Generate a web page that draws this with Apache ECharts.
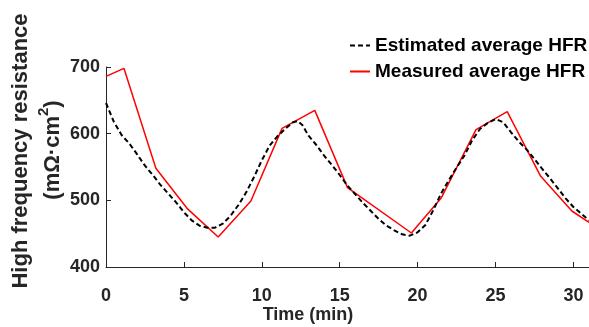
<!DOCTYPE html>
<html>
<head>
<meta charset="utf-8">
<script src="https://cdn.jsdelivr.net/npm/echarts@6/dist/echarts.min.js"></script>
<style>
  html, body { margin: 0; padding: 0; background: #fff; }
  #chart { width: 589px; height: 327px; }
</style>
</head>
<body>
<div id="chart"></div>
<script>
// estimated average HFR (dashed black)
const estTime = [0, 0.5, 1, 1.5, 2, 2.5, 3, 3.5, 4, 4.5, 5, 5.5, 6, 6.5, 7, 7.5, 8, 8.5, 9, 9.5,
  10, 10.5, 11, 11.5, 12, 12.3, 12.6, 13, 13.5, 14, 14.5, 15, 15.5, 16, 16.5, 17, 17.5, 18, 18.5, 19,
  19.5, 20, 20.5, 21, 21.5, 22, 22.5, 23, 23.5, 24, 24.5, 25, 25.5, 26, 26.5, 27, 27.5, 28, 28.5, 29,
  29.5, 30, 30.5, 31];
const estHfr = [646, 618, 598, 585, 569, 552, 538, 523, 510, 497, 482, 470, 462, 459, 459, 465, 477, 493, 512, 535,
  560, 582, 596, 607, 617, 619, 613, 597, 583, 567, 553, 538, 522, 509, 496, 484, 472, 462, 455, 449,
  447, 452, 463, 485, 510, 530, 549, 567, 590, 607, 616, 622, 617, 602, 588, 576, 562, 547, 533, 518,
  503, 490, 480, 470];

// measured average HFR (solid red)
const measTime = [0, 1.15, 3.2, 5.2, 7.2, 9.3, 11.3, 13.4, 15.5, 19.6, 21.5, 23.75, 25.75, 27.9, 29.9, 31];
const measHfr = [686, 698, 548, 488, 445, 499, 608, 635, 519, 451, 503, 606, 633, 536, 484, 467];

const xTicks = { min: 0, max: 31, interval: 5 };
const yTicks = { min: 400, max: 700, interval: 100 };

const font = '"Liberation Sans", Arial, sans-serif';
const axisColor = '#262626';

const chart = echarts.init(document.getElementById('chart'));

const option = {
  backgroundColor: '#fff',
  animation: false,
  grid: { left: 106, right: 0, top: 67, bottom: 60 },
  legend: {
    orient: 'vertical',
    left: 349,
    top: 36,
    padding: 0,
    itemWidth: 20,
    itemHeight: 14,
    itemGap: 7,
    itemStyle: { opacity: 0 },
    textStyle: { fontFamily: font, fontWeight: 'bold', fontSize: 19, color: '#000' },
    data: ['Estimated average HFR', 'Measured average HFR'],
  },
  xAxis: {
    type: 'value',
    min: xTicks.min,
    max: xTicks.max,
    interval: xTicks.interval,
    axisLine: { lineStyle: { color: axisColor, width: 1 } },
    axisTick: { inside: true, length: 5, lineStyle: { color: axisColor } },
    axisLabel: { fontFamily: font, fontWeight: 'bold', fontSize: 18, color: axisColor, margin: 20, showMaxLabel: false },
    splitLine: { show: false },
  },
  yAxis: {
    type: 'value',
    min: yTicks.min,
    max: yTicks.max,
    interval: yTicks.interval,
    axisLine: { show: true, lineStyle: { color: axisColor, width: 1 } },
    axisTick: { show: true, inside: true, length: 5, lineStyle: { color: axisColor } },
    axisLabel: { fontFamily: font, fontWeight: 'bold', fontSize: 18, color: axisColor, margin: 6 },
    splitLine: { show: false },
  },
  graphic: [
    {
      type: 'text',
      x: 21, y: 151,
      rotation: Math.PI / 2,
      style: {
        text: 'High frequency resistance',
        font: 'bold 22px ' + font,
        fill: axisColor,
        align: 'center',
        verticalAlign: 'middle',
      },
    },
    {
      type: 'text',
      x: 50, y: 150,
      rotation: Math.PI / 2,
      style: {
        text: '{a|(mΩ·cm}{s|2}{a|)}',
        fill: axisColor,
        align: 'center',
        verticalAlign: 'middle',
        rich: {
          a: { font: 'bold 22px ' + font, fill: axisColor, verticalAlign: 'bottom' },
          s: { font: 'bold 15px ' + font, fill: axisColor, verticalAlign: 'top', padding: [0, 0, 12, 0] },
        },
      },
    },
    {
      type: 'text',
      x: 308, y: 315,
      style: {
        text: 'Time (min)',
        font: 'bold 18px ' + font,
        fill: axisColor,
        align: 'center',
        verticalAlign: 'middle',
      },
    },
  ],
  series: [
    {
      name: 'Estimated average HFR',
      type: 'line',
      symbol: 'none',
      z: 3,
      lineStyle: { color: '#000', width: 2, type: [5, 3] },
      itemStyle: { color: '#000' },
      data: estTime.map((t, i) => [t, estHfr[i]]),
    },
    {
      name: 'Measured average HFR',
      type: 'line',
      symbol: 'none',
      z: 2,
      lineStyle: { color: '#ff0000', width: 1.5 },
      itemStyle: { color: '#ff0000' },
      data: measTime.map((t, i) => [t, measHfr[i]]),
    },
  ],
};

chart.setOption(option);
</script>
</body>
</html>
